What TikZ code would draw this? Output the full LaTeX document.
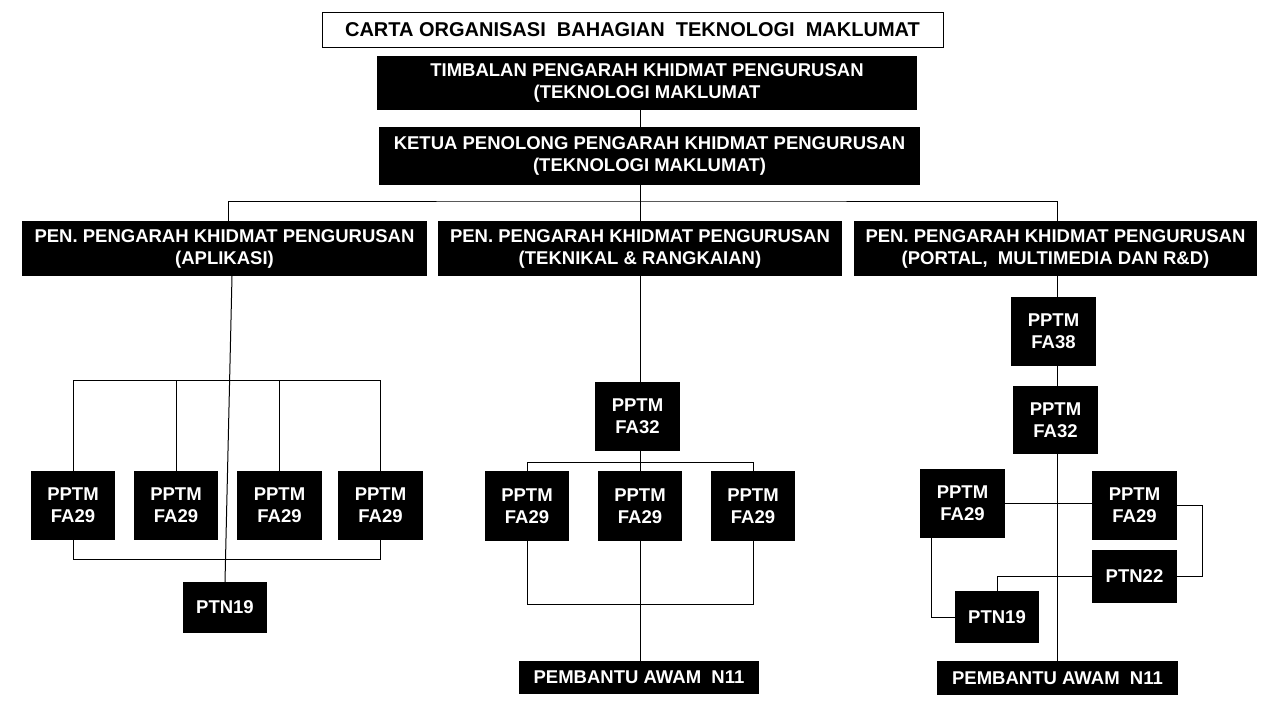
\documentclass[tikz,border=0pt]{standalone}
\usepackage{fontspec}
\setmainfont{Liberation Sans}
\usetikzlibrary{calc}
\begin{document}
\begin{tikzpicture}[x=1pt,y=-1pt]
\tikzset{
  blk/.style={fill=black, text=white, font=\bfseries\fontsize{18.5}{22}\selectfont, align=center, inner sep=0pt, outer sep=0pt},
  ttl/.style={fill=white, draw=black, line width=1pt, text=black, font=\bfseries\fontsize{20}{24}\selectfont, align=center, inner sep=0pt, outer sep=0pt},
  conn/.style={line width=1pt, draw=black},
  sm/.style={blk, minimum width=84pt, minimum height=69pt}
}
\useasboundingbox (0,0) rectangle (1280,720);
% top
\node[ttl, minimum width=621pt, minimum height=35pt] (title) at (632.5,29.5) {CARTA ORGANISASI\ \ BAHAGIAN\ \ TEKNOLOGI\ \ MAKLUMAT};
\node[blk, minimum width=540pt, minimum height=54pt] (timb) at (647,83) {TIMBALAN PENGARAH KHIDMAT PENGURUSAN\\(TEKNOLOGI MAKLUMAT};
\node[blk, minimum width=541pt, minimum height=58pt] (ketua) at (649.5,156) {KETUA PENOLONG PENGARAH KHIDMAT PENGURUSAN\\(TEKNOLOGI MAKLUMAT)};
\node[blk, minimum width=405pt, minimum height=55pt] (penA) at (224.5,248.5) {PEN. PENGARAH KHIDMAT PENGURUSAN\\(APLIKASI)};
\node[blk, minimum width=404pt, minimum height=55pt] (penB) at (640,248.5) {PEN. PENGARAH KHIDMAT PENGURUSAN\\(TEKNIKAL \& RANGKAIAN)};
\node[blk, minimum width=403pt, minimum height=55pt] (penC) at (1055.5,248.5) {PEN. PENGARAH KHIDMAT PENGURUSAN\\(PORTAL,\ \ MULTIMEDIA DAN R\&D)};
% left branch
\node[sm] (a1) at (73,505.5) {PPTM\\FA29};
\node[sm] (a2) at (176,505.5) {PPTM\\FA29};
\node[sm, minimum width=85pt] (a3) at (279.5,505.5) {PPTM\\FA29};
\node[sm, minimum width=85pt] (a4) at (380.5,505.5) {PPTM\\FA29};
\node[blk, minimum width=84pt, minimum height=51pt] (ptnA) at (225,607.5) {PTN19};
% middle branch
\node[sm, minimum width=85pt] (fb) at (637.5,416.5) {PPTM\\FA32};
\node[sm, minimum height=70pt] (b1) at (527,506) {PPTM\\FA29};
\node[sm, minimum height=70pt] (b2) at (640,506) {PPTM\\FA29};
\node[sm, minimum height=70pt] (b3) at (753,506) {PPTM\\FA29};
\node[blk, minimum width=240pt, minimum height=33pt] (pembB) at (639,677.5) {PEMBANTU AWAM\ \ N11};
% right branch
\node[sm, minimum width=85pt] (f38) at (1053.5,331.5) {PPTM\\FA38};
\node[sm, minimum width=85pt, minimum height=68pt] (fc) at (1055.5,420) {PPTM\\FA32};
\node[sm, minimum width=85pt] (c1) at (962.5,503.5) {PPTM\\FA29};
\node[sm, minimum width=85pt] (c2) at (1134.5,505.5) {PPTM\\FA29};
\node[blk, minimum width=85pt, minimum height=53pt] (ptn22) at (1134.5,576.5) {PTN22};
\node[blk, minimum width=84pt, minimum height=52pt] (ptnC) at (997,617) {PTN19};
\node[blk, minimum width=241pt, minimum height=34pt] (pembC) at (1057.5,678) {PEMBANTU AWAM\ \ N11};
% connectors top
\coordinate (bus) at (640,201);
\draw[conn] (timb.south -| penB.north) -- (ketua.north -| penB.north);
\draw[conn] (ketua.south -| penB.north) -- (penB.north);
\draw[conn] ($(penA.north)+(3.5,0)$) |- (bus) -| ($(penC.north)+(1.5,0)$);
% left
\coordinate (lt) at (0,380);
\coordinate (lb) at (0,559);
\draw[conn] ($(penA.south)+(7.5,0)$) -- (ptnA.north);
\draw[conn] (a1.north) -- (a1.north |- lt) -- (a4.north |- lt) -- (a4.north);
\draw[conn] (a2.north) -- (a2.north |- lt);
\draw[conn] (a3.north) -- (a3.north |- lt);
\draw[conn] (a1.south) -- (a1.south |- lb) -- (a4.south |- lb) -- (a4.south);
% middle
\coordinate (mt) at (0,462);
\coordinate (mb) at (0,604);
\draw[conn] (penB.south) -- (fb.north -| penB.south);
\draw[conn] (fb.south -| b2.north) -- (b2.north);
\draw[conn] (b1.north) -- (b1.north |- mt) -- (b3.north |- mt) -- (b3.north);
\draw[conn] (b1.south) -- (b1.south |- mb) -- (b3.south |- mb) -- (b3.south);
\draw[conn] (b2.south) -- (pembB.north -| b2.south);
% right
\draw[conn] ($(penC.south)+(1.5,0)$) -- (f38.north -| 1057,0);
\draw[conn] (f38.south -| 1057,0) -- (fc.north -| 1057,0);
\draw[conn] (fc.south -| 1057.5,0) -- (pembC.north);
\draw[conn] (c1.east) -- (c1.east -| c2.west);
\draw[conn] (c2.east) -- ++(25,0) |- (ptn22.east);
\draw[conn] (ptn22.west) -| (ptnC.north);
\draw[conn] ($(c1.south)+(-31,0)$) |- (ptnC.west);
\end{tikzpicture}
\end{document}
